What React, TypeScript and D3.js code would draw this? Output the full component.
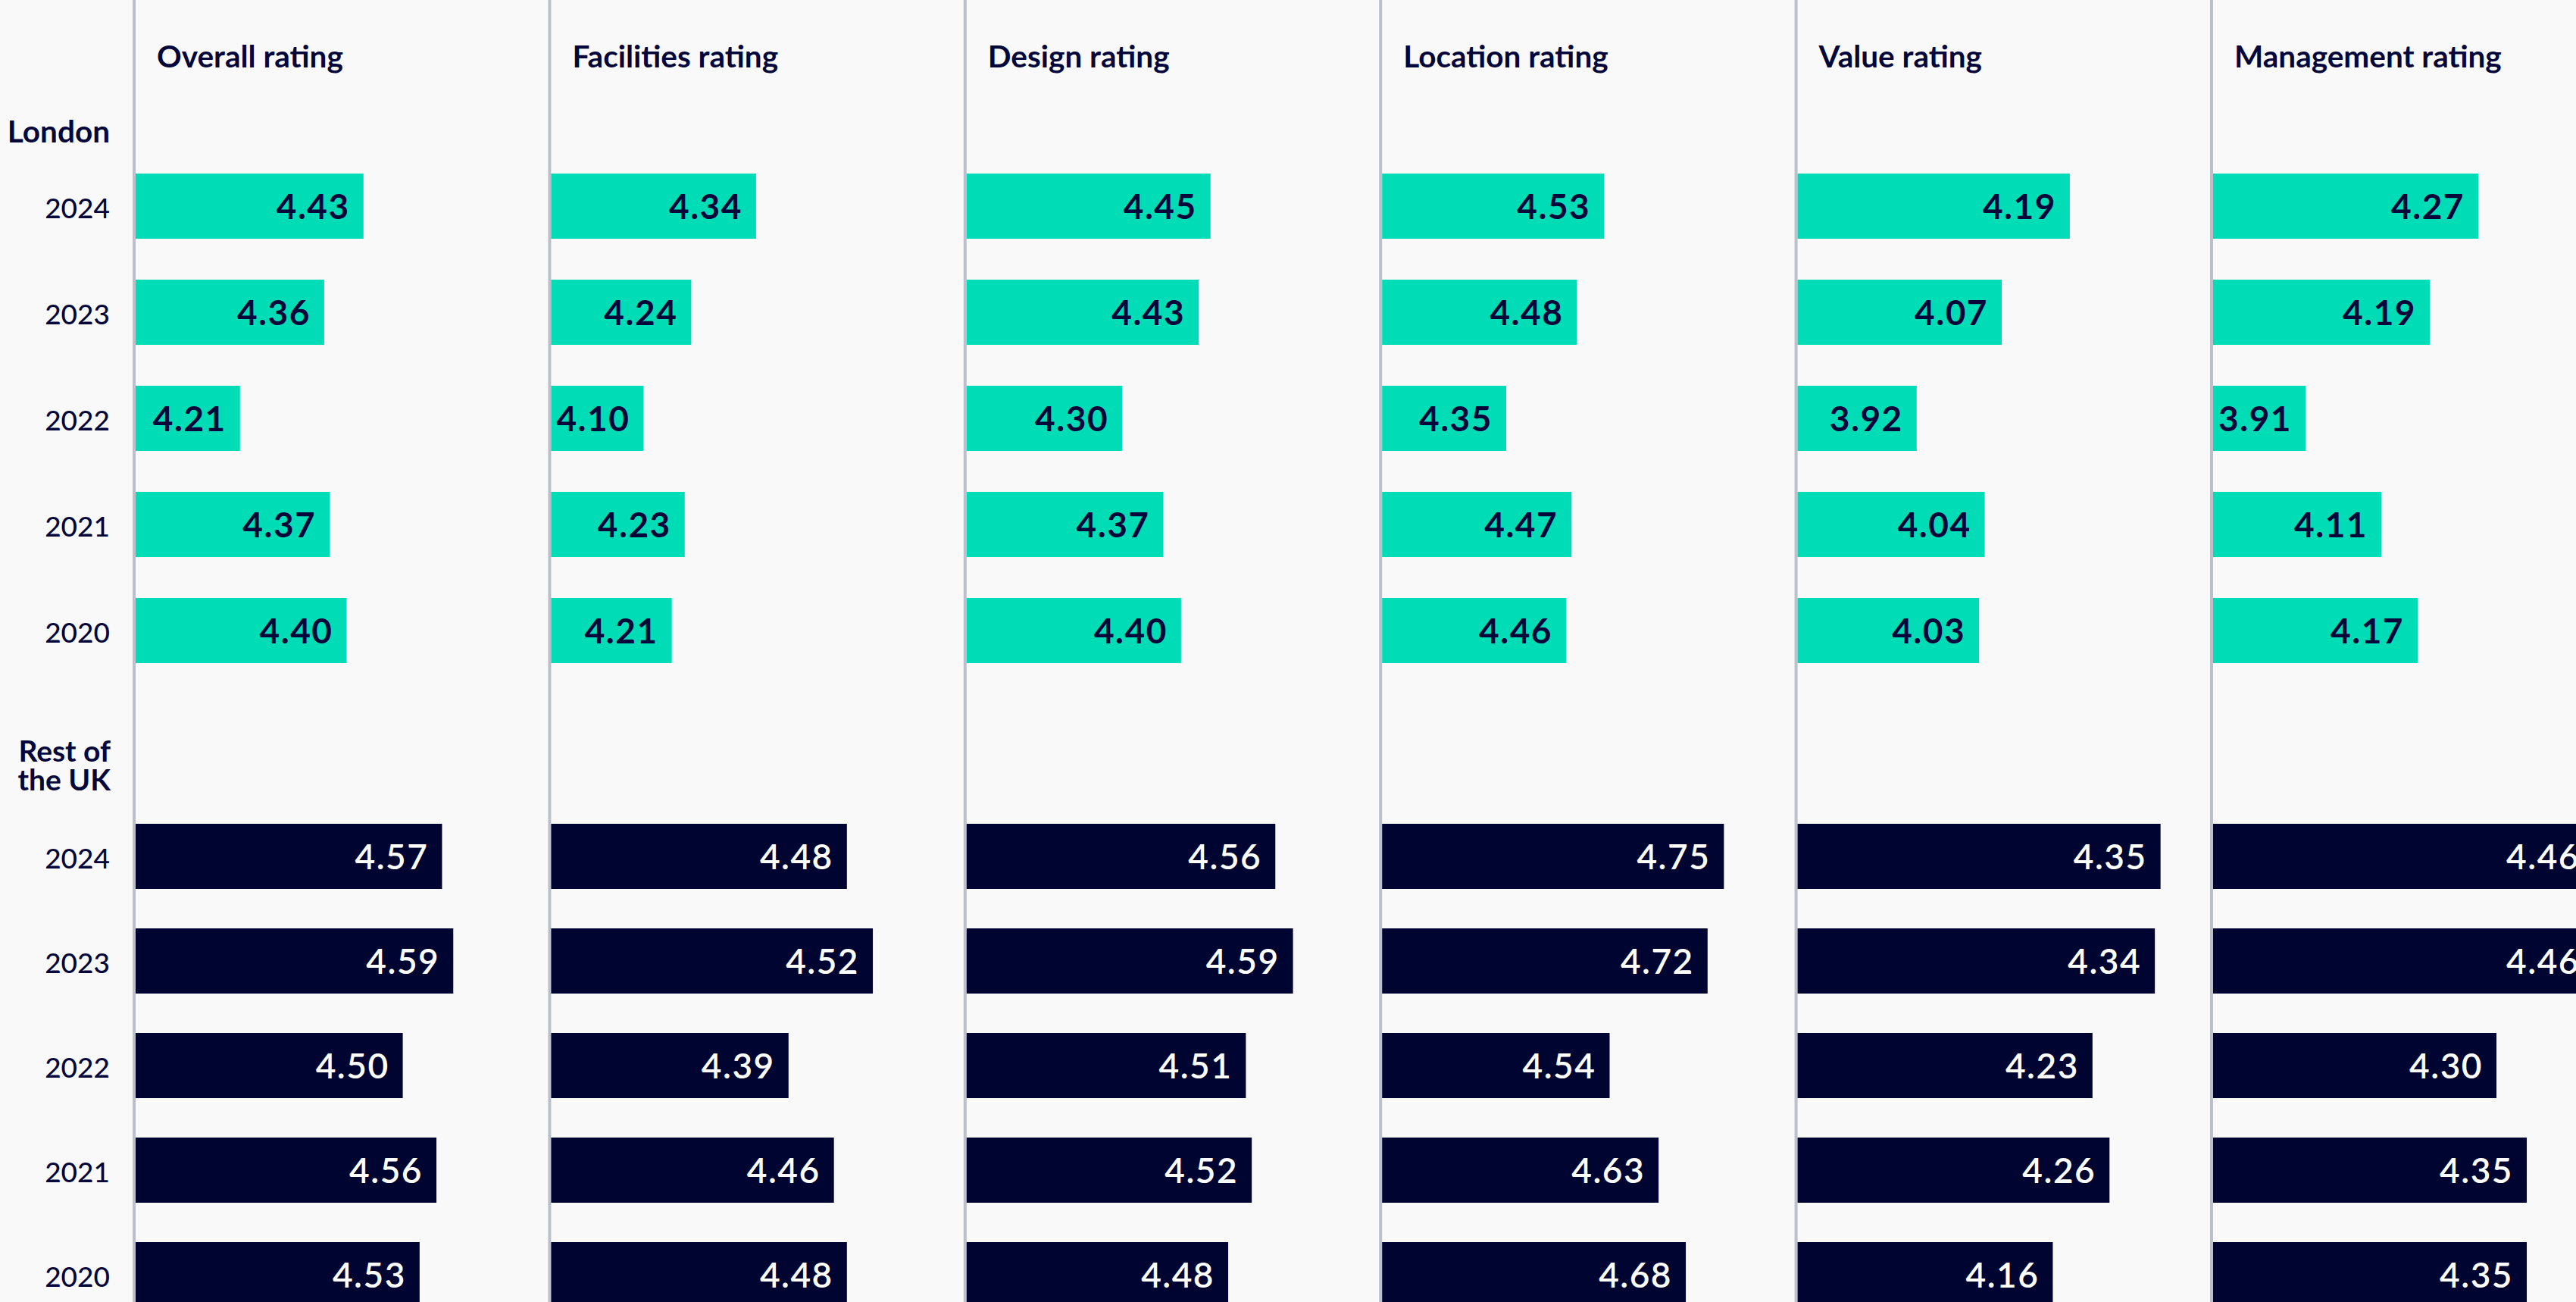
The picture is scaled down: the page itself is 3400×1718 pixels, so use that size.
import React from "react";
import * as d3 from "d3";

// ---- data ----
const PANELS = [
  "Overall rating",
  "Facilities rating",
  "Design rating",
  "Location rating",
  "Value rating",
  "Management rating",
];
const YEARS = ["2024", "2023", "2022", "2021", "2020"];

// London values per panel (years 2024..2020)
const londonOverall = [4.43, 4.36, 4.21, 4.37, 4.4];
const londonFacilities = [4.34, 4.24, 4.1, 4.23, 4.21];
const londonDesign = [4.45, 4.43, 4.3, 4.37, 4.4];
const londonLocation = [4.53, 4.48, 4.35, 4.47, 4.46];
const londonValue = [4.19, 4.07, 3.92, 4.04, 4.03];
const londonManagement = [4.27, 4.19, 3.91, 4.11, 4.17];

// Rest of the UK values per panel (years 2024..2020)
const restOverall = [4.57, 4.59, 4.5, 4.56, 4.53];
const restFacilities = [4.48, 4.52, 4.39, 4.46, 4.48];
const restDesign = [4.56, 4.59, 4.51, 4.52, 4.48];
const restLocation = [4.75, 4.72, 4.54, 4.63, 4.68];
const restValue = [4.35, 4.34, 4.23, 4.26, 4.16];
const restManagement = [4.46, 4.46, 4.3, 4.35, 4.35];

// each panel has its own value axis
const PANEL_DOMAINS: [number, number][] = [
  [4.024, 4.699],
  [4.024, 4.608],
  [4.036, 4.679],
  [4.122, 4.818],
  [3.71, 4.378],
  [3.8325, 4.4575],
];

const LONDON = [londonOverall, londonFacilities, londonDesign, londonLocation, londonValue, londonManagement];
const REST = [restOverall, restFacilities, restDesign, restLocation, restValue, restManagement];

// ---- style ----
const W = 3400;
const H = 1718;
const BG = "#f9f9f9";
const TEAL = "#00ddb6";
const NAVY = "#000431";
const TEXT = "#05073a";
const RULE = "#bcbfcc";
const FONT = "Lato, 'Open Sans', sans-serif";
const BAR_H = 86;
const BAR_RANGE = 500;
const MIN_BAR = 122;
const VAL_FS = 46;
const HEAD_FS = 40.5;

export default function App() {
  const panelX = d3.scalePoint<string>().domain(PANELS).range([177, 2919]);
  const yLondon = d3.scalePoint<string>().domain(YEARS).range([272, 832]);
  const yRest = d3.scalePoint<string>().domain(YEARS).range([1130, 1682]);

  const groups = [
    { data: LONDON, y: yLondon, fill: TEAL, label: TEXT, weight: 700 },
    { data: REST, y: yRest, fill: NAVY, label: "#ffffff", weight: 600 },
  ];

  return (
    <div style={{ position: "fixed", left: 0, top: 0, width: W, height: H }}>
      <svg width={W} height={H} style={{ display: "block" }} fontFamily={FONT}>
        <rect x={0} y={0} width={W} height={H} fill={BG} />

        {PANELS.map((p, i) => {
          const px = panelX(p)!;
          const xs = d3.scaleLinear().domain(PANEL_DOMAINS[i]).range([0, BAR_RANGE]);
          return (
            <g key={p}>
              <line x1={px} x2={px} y1={0} y2={H} stroke={RULE} strokeWidth={4} />
              <text x={px + 30} y={89} fontSize={HEAD_FS} fontWeight={700} fill={TEXT}>
                {p}
              </text>
              {groups.map((g, gi) =>
                YEARS.map((yr, j) => {
                  const v = g.data[i][j];
                  const c = g.y(yr)!;
                  const w = Math.max(xs(v), MIN_BAR);
                  const x0 = px + 2;
                  return (
                    <g key={`${gi}-${yr}`}>
                      <rect x={x0} y={c - BAR_H / 2} width={w} height={BAR_H} fill={g.fill} />
                      <text
                        x={x0 + w - 18}
                        y={c + VAL_FS * 0.36}
                        textAnchor="end"
                        fontSize={VAL_FS}
                        fontWeight={g.weight}
                        fill={g.label}
                        letterSpacing={1.5}
                      >
                        {d3.format(".2f")(v)}
                      </text>
                    </g>
                  );
                })
              )}
            </g>
          );
        })}

        {/* row labels */}
        <text x={145} y={188} textAnchor="end" fontSize={HEAD_FS} fontWeight={700} fill={TEXT}>
          London
        </text>
        <text x={146} y={1005} textAnchor="end" fontSize={39} fontWeight={700} fill={TEXT}>
          Rest of
        </text>
        <text x={146} y={1043} textAnchor="end" fontSize={39} fontWeight={700} fill={TEXT}>
          the UK
        </text>
        {groups.map((g, gi) =>
          YEARS.map((yr) => (
            <text
              key={`yl-${gi}-${yr}`}
              x={145}
              y={g.y(yr)! + 16}
              textAnchor="end"
              fontSize={37}
              fontWeight={500}
              fill={TEXT}
            >
              {yr}
            </text>
          ))
        )}
      </svg>
    </div>
  );
}
